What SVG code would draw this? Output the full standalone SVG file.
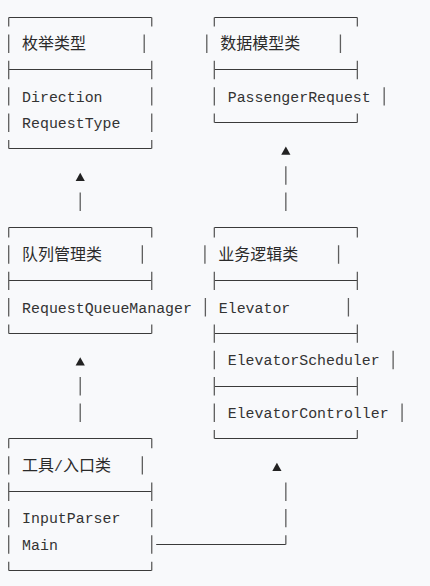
<svg xmlns="http://www.w3.org/2000/svg" xmlns:xlink="http://www.w3.org/1999/xlink" width="430" height="586" viewBox="0 0 430 586">
<style>
.h{fill:none;stroke:#3a3a3a;stroke-width:1}
.v{fill:none;stroke:#5e5e5e;stroke-width:1.3}
.t{font-family:"Liberation Mono","DejaVu Sans Mono",monospace;font-size:14.9px;fill:#333}
.c{font-family:"Noto Sans CJK SC","Noto Sans",sans-serif;font-size:16px;fill:#2a2a2a}
.a{fill:#222}
</style>
<defs>
<path id="tri" d="M0,-8.3 L4.6,0 L-4.6,0 Z"/>
</defs>
<rect width="430" height="586" fill="#f8f9fb"/>

<g id="node-enum">
<path class="h" d="M8.7 17.5H151.74M8.7 69.5H151.74M8.7 148.5H151.74"/>
<path class="v" d="M8.7 17.5V26.5M8.7 34.5V52.9M8.7 60.8V79.2M8.7 87.2V105.6M8.7 113.5V131.9M8.7 139.9V148.5M151.74 17.5V26.5M151.74 60.8V79.2M151.74 87.2V105.6M151.74 113.5V131.9M151.74 139.9V148.5M144.21 34.5V52.9"/>
<text class="c" x="22.11" y="49">枚举类型</text>
<text class="t" x="22.11" y="101.7">Direction</text>
<text class="t" x="22.11" y="128">RequestType</text>
</g>

<g id="node-model">
<path class="h" d="M214.32 17.5H357.36M214.32 69.5H357.36M214.32 122.5H357.36"/>
<path class="v" d="M214.32 17.5V26.5M214.32 60.8V79.2M214.32 87.2V105.6M214.32 113.5V122.5M357.36 17.5V26.5M357.36 60.8V79.2M357.36 113.5V122.5M206.79 34.5V52.9M340.43 34.5V52.9M384.18 87.2V105.6"/>
<text class="c" x="220.2" y="49">数据模型类</text>
<text class="t" x="227.73" y="101.7">PassengerRequest</text>
</g>

<g id="node-queue">
<path class="h" d="M8.7 227.5H151.74M8.7 280.5H151.74M8.7 333.5H151.74"/>
<path class="v" d="M8.7 227.5V237.4M8.7 245.3V263.7M8.7 271.7V290.1M8.7 298.1V316.5M8.7 324.4V333.5M151.74 227.5V237.4M151.74 271.7V290.1M151.74 324.4V333.5M142.34 245.3V263.7M205.38 298.1V316.5"/>
<text class="c" x="22.11" y="259.8">队列管理类</text>
<text class="t" x="22.11" y="312.6">RequestQueueManager</text>
</g>

<g id="node-logic">
<path class="h" d="M214.32 227.5H357.36M214.32 280.5H357.36M214.32 333.5H357.36M214.32 386.5H357.36M214.32 438.5H357.36"/>
<path class="v" d="M214.32 227.5V237.4M214.32 271.7V290.1M214.32 324.4V342.8M214.32 350.8V369.2M214.32 377.1V395.5M214.32 403.5V421.9M214.32 429.9V438.5M357.36 227.5V237.4M357.36 271.7V290.1M357.36 324.4V342.8M357.36 377.1V395.5M357.36 429.9V438.5M204.92 245.3V263.7M338.56 245.3V263.7M348.42 298.1V316.5M393.12 350.8V369.2M402.06 403.5V421.9"/>
<text class="c" x="218.33" y="259.8">业务逻辑类</text>
<text class="t" x="218.79" y="312.6">Elevator</text>
<text class="t" x="227.73" y="365.3">ElevatorScheduler</text>
<text class="t" x="227.73" y="418">ElevatorController</text>
</g>

<g id="node-util">
<path class="h" d="M8.7 438.5H151.74M8.7 491.5H151.74M8.7 570.5H151.74"/>
<path class="v" d="M8.7 438.5V448.3M8.7 456.2V474.6M8.7 482.6V501M8.7 508.9V527.3M8.7 535.3V553.7M8.7 561.7V570.5M151.74 438.5V448.3M151.74 482.6V501M151.74 508.9V527.3M151.74 535.3V553.7M151.74 561.7V570.5M142.34 456.2V474.6"/>
<text y="470.7"><tspan class="c" x="22.11">工具</tspan><tspan class="t" x="54.11">/</tspan><tspan class="c" x="63.05">入口类</tspan></text>
<text class="t" x="22.11" y="523.4">InputParser</text>
<text class="t" x="22.11" y="549.8">Main</text>
</g>

<g id="connectors">
<path class="v" d="M80.22 192.6V211"/>
<use class="a" xlink:href="#tri" href="#tri" x="80.22" y="181.06"/>
<path class="v" d="M285.84 166.3V184.7M285.84 192.6V211"/>
<use class="a" xlink:href="#tri" href="#tri" x="285.84" y="154.7"/>
<path class="v" d="M80.22 377.1V395.5M80.22 403.5V421.9"/>
<use class="a" xlink:href="#tri" href="#tri" x="80.22" y="365.58"/>
<path class="h" d="M156.21 544.5H285.84"/>
<path class="v" d="M285.84 535.3V544.5M285.84 482.6V501M285.84 508.9V527.3"/>
<use class="a" xlink:href="#tri" href="#tri" x="276.9" y="471"/>
</g>
</svg>
